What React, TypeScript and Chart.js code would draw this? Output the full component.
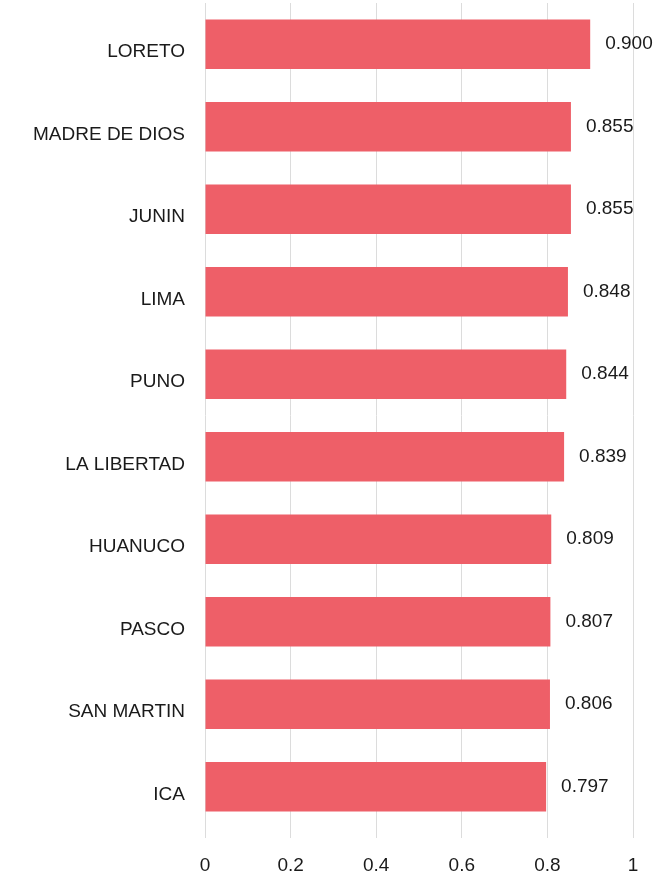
import React, { useEffect, useRef } from "react";
import { Chart, registerables } from "chart.js";

Chart.register(...registerables);

const categories = [
  "LORETO",
  "MADRE DE DIOS",
  "JUNIN",
  "LIMA",
  "PUNO",
  "LA LIBERTAD",
  "HUANUCO",
  "PASCO",
  "SAN MARTIN",
  "ICA",
];

const values = [0.9, 0.855, 0.855, 0.848, 0.844, 0.839, 0.809, 0.807, 0.806, 0.797];

const xTickLabels = ["0", "0.2", "0.4", "0.6", "0.8", "1"];

const FONT_FAMILY = "'Liberation Sans', Arial, sans-serif";
const TEXT_COLOR = "#1a1a1a";
const BAR_COLOR = "#EE5F68";

const valueLabelPlugin = {
  id: "valueLabels",
  afterDatasetsDraw(chart: any) {
    const ctx = chart.ctx;
    const meta = chart.getDatasetMeta(0);
    ctx.save();
    ctx.font = `19px ${FONT_FAMILY}`;
    ctx.fillStyle = TEXT_COLOR;
    ctx.textAlign = "left";
    ctx.textBaseline = "middle";
    meta.data.forEach((bar: any, i: number) => {
      const v = chart.data.datasets[0].data[i] as number;
      ctx.fillText(v.toFixed(3), bar.x + 15, bar.y);
    });
    ctx.restore();
  },
};

export default function App() {
  const canvasRef = useRef<HTMLCanvasElement | null>(null);

  useEffect(() => {
    if (!canvasRef.current) return;
    const chart = new Chart(canvasRef.current, {
      type: "bar",
      data: {
        labels: categories,
        datasets: [
          {
            data: values,
            backgroundColor: BAR_COLOR,
            borderWidth: 0,
            barPercentage: 0.6,
            categoryPercentage: 1,
          },
        ],
      },
      options: {
        indexAxis: "y",
        animation: false,
        responsive: true,
        maintainAspectRatio: false,
        layout: { padding: { top: 3, right: 30, bottom: 0, left: 0 } },
        plugins: {
          legend: { display: false },
          tooltip: { enabled: false },
        },
        scales: {
          x: {
            min: 0,
            max: 1,
            border: { display: false },
            grid: {
              color: "#dcdcdc",
              lineWidth: 1,
              drawTicks: true,
              tickLength: 10,
            },
            ticks: {
              stepSize: 0.2,
              padding: 16,
              color: TEXT_COLOR,
              font: { family: FONT_FAMILY, size: 19 },
              callback: (_v: any, i: number) => xTickLabels[i],
            },
            afterFit: (scale: any) => {
              scale.height = 43;
            },
          },
          y: {
            border: { display: false },
            grid: { display: false, drawTicks: false },
            ticks: {
              padding: 20,
              labelOffset: 8,
              color: TEXT_COLOR,
              font: { family: FONT_FAMILY, size: 19 },
            },
            afterFit: (scale: any) => {
              scale.width = 205;
              scale.paddingTop = 0;
              scale.paddingBottom = 0;
            },
          },
        },
      },
      plugins: [valueLabelPlugin],
    });
    return () => chart.destroy();
  }, []);

  return (
    <div style={{ position: "absolute", left: 0, top: 0, width: 663, height: 871 }}>
      <canvas ref={canvasRef} />
    </div>
  );
}
